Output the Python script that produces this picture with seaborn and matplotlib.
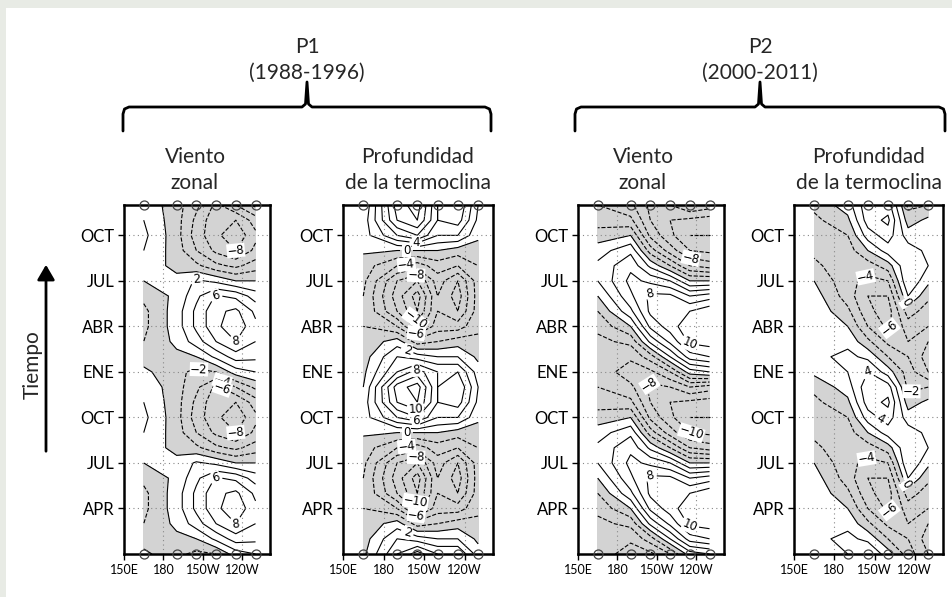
import numpy as np
import matplotlib
matplotlib.use("Agg")
import matplotlib.pyplot as plt
import seaborn as sns
from matplotlib.patches import Rectangle, FancyArrowPatch
from matplotlib.lines import Line2D

sns.set_theme(style="white")
plt.rcParams['font.family'] = ['Lato', 'DejaVu Sans']

# ---------------- data ----------------
lons = [165, 190, 205, 220, 235, 250]          # buoy longitudes (deg E)
months = list(range(1, 25))                     # two annual cycles
month_ticks = [4, 7, 10, 13, 16, 19, 22]
month_labels = ["APR", "JUL", "OCT", "ENE", "ABR", "JUL", "OCT"]
lon_ticks = [150, 180, 210, 240]
lon_labels = ["150E", "180", "150W", "120W"]

# monthly values Jan..Dec at each longitude (columns = lons)
wind_p1 = [
    [0.5, -1.5, -2.5, -2.0, 1.0, 2.0],
    [-1.0, -0.5, 0.0, 2.5, 5.0, 4.5],
    [-2.0, 0.5, 3.0, 6.0, 8.0, 6.0],
    [-2.5, 1.0, 4.5, 7.5, 9.5, 6.5],
    [-2.5, 1.0, 4.5, 7.5, 8.5, 5.5],
    [-1.5, 0.5, 3.5, 6.2, 5.5, 3.0],
    [0.0, 0.5, 2.3, 1.5, 0.0, 0.0],
    [1.0, -0.5, -1.5, -3.5, -4.5, -3.0],
    [2.0, -1.0, -4.0, -6.5, -8.0, -5.5],
    [2.5, -1.2, -5.0, -7.5, -9.5, -6.5],
    [2.0, -1.2, -4.5, -7.5, -8.0, -5.0],
    [1.5, -1.2, -3.5, -6.5, -4.0, -1.5],
]
depth_p1 = [
    [-0.5, 6.0, 9.0, 6.0, 6.0, 1.0],
    [-1.0, 4.0, 3.0, 2.0, 2.0, -0.5],
    [-1.5, 1.0, -3.0, -2.0, -1.0, -1.5],
    [-2.0, -4.0, -9.0, -5.0, -5.0, -2.5],
    [-2.0, -8.0, -12.0, -6.0, -8.0, -3.0],
    [-2.0, -9.0, -13.0, -6.0, -9.0, -3.0],
    [-1.5, -8.0, -10.0, -5.0, -8.0, -3.0],
    [-1.0, -4.0, -5.0, -3.0, -4.0, -2.0],
    [0.3, 0.0, 0.0, 0.0, -1.0, -1.0],
    [1.0, 6.0, 8.0, 4.0, 4.0, 0.5],
    [0.8, 10.0, 12.0, 6.0, 7.0, 1.5],
    [0.0, 11.0, 13.0, 6.0, 8.0, 2.0],
]
wind_p2 = [
    [-4.5, -7.3, -6.5, -4.0, 1.0, 2.0],
    [-5.0, -5.5, -3.0, 2.0, 7.0, 8.0],
    [-4.5, -3.5, 2.5, 6.5, 10.5, 11.0],
    [-3.5, 0.0, 6.5, 9.0, 11.5, 12.0],
    [-2.0, 3.5, 8.5, 10.0, 10.0, 11.5],
    [0.0, 5.6, 8.5, 8.5, 6.0, 7.0],
    [2.0, 6.6, 5.5, 4.0, 0.0, 0.0],
    [2.5, 5.5, 1.5, -2.0, -6.0, -7.0],
    [1.0, 3.5, -3.0, -7.0, -10.0, -10.5],
    [-1.0, 0.0, -6.5, -9.5, -12.0, -12.0],
    [-3.0, -3.5, -8.0, -10.0, -10.5, -11.0],
    [-4.0, -5.5, -8.5, -8.0, -6.0, -7.0],
]
depth_p2 = [
    [0.5, 2.0, 4.0, 1.0, -3.0, -6.0],
    [1.5, 2.5, 1.5, -2.0, -4.0, -7.0],
    [2.0, 1.5, -1.5, -4.5, -4.0, -6.0],
    [2.0, 0.0, -4.0, -6.5, -3.0, -4.0],
    [1.5, -1.5, -5.5, -7.0, -1.0, -3.0],
    [1.0, -3.0, -6.0, -6.0, 2.0, -1.5],
    [0.0, -3.5, -4.5, -4.0, 4.0, 0.5],
    [-1.5, -3.5, -3.0, -1.0, 4.0, 2.0],
    [-2.5, -3.0, 0.0, 3.0, 3.0, 1.5],
    [-3.0, -2.0, 3.0, 5.0, 1.0, 1.0],
    [-2.5, -0.5, 5.0, 6.5, -1.0, 0.5],
    [-1.5, 1.0, 5.5, 5.0, -2.5, -2.0],
]

# ---------------- figure ----------------
W, H = 952, 597
fig = plt.figure(figsize=(W / 100, H / 100), dpi=100)
fig.patch.set_facecolor('#e8ebe5')
fig.patches.append(Rectangle((6 / W, 0), 1, 1 - 8 / H, transform=fig.transFigure,
                             facecolor='white', edgecolor='none', zorder=-10))


def fx(x):
    return x / W


def fy(y):
    return 1 - y / H


levels = np.arange(-14, 16, 2)


def fmt(v):
    v = int(round(v))
    return ("\u2212%d" % -v) if v < 0 else "%d" % v


def panel(left, right, field, label_pos):
    top, bottom = 205, 554
    ax = fig.add_axes([fx(left), fy(bottom), fx(right - left), (bottom - top) / H])
    Z = np.tile(np.array(field), (2, 1))
    X, Y = np.meshgrid(lons, months)
    ax.contourf(X, Y, Z, levels=[-100, 0], colors=['#d3d3d3'], zorder=1)
    cs = ax.contour(X, Y, Z, levels=levels, colors='black', linewidths=0.8, zorder=2)
    cl = ax.clabel(cs, manual=label_pos, inline=True, fmt=fmt, fontsize=8.5)
    for t in cl:
        t.set_family('DejaVu Sans')
        t.set_bbox(dict(facecolor='white', edgecolor='none', pad=0.3))
    ax.set_xlim(150, 261)
    ax.set_ylim(1, 24)
    ax.set_xticks(lon_ticks)
    ax.set_xticklabels(lon_labels, fontsize=9)
    ax.set_yticks(month_ticks)
    ax.set_yticklabels(month_labels, fontsize=12)
    ax.tick_params(axis='both', direction='out', length=4, width=1, colors='black',
                   pad=3, left=True, bottom=True)
    ax.grid(True, linestyle=(0, (1, 3)), color='#888888', linewidth=0.8)
    ax.set_axisbelow(False)
    for s in ax.spines.values():
        s.set_linewidth(1.8)
        s.set_color('black')
        s.set_zorder(5)
    for yy in (1, 24):
        ax.plot(lons, [yy] * len(lons), 'o', ms=6.5, mfc='none', mec='#444444',
                mew=0.9, clip_on=False, zorder=6)
    return ax


panel(124, 270, wind_p1,
      [(235, 21), (235, 9), (235, 15), (235, 3), (220, 18), (220, 6),
       (205, 19.2), (207, 13.2), (225, 12.5), (225, 12.0)])
panel(343, 493, depth_p1,
      [(204, 21.6), (197, 20.8), (197, 20.0), (204, 19.4), (204, 16.5), (204, 15.5),
       (197, 14.2), (204, 13.2), (204, 10.6), (204, 9.7), (197, 8.8), (197, 8.2),
       (204, 7.4), (204, 4.5), (204, 3.5), (197, 2.2)])
panel(578, 724, wind_p2,
      [(236, 20.7), (236, 8.8), (205, 18.2), (205, 6.2), (235, 14.7), (235, 2.7),
       (205, 12.1)])
panel(794, 943, depth_p2,
      [(204, 19.1), (204, 7.3), (234, 17.6), (234, 5.6), (220, 16), (220, 4.0),
       (204, 13.3), (238, 11.4), (215, 10)])

# ---------------- annotations ----------------
def txt(x, y, s, size=15, **kw):
    fig.text(fx(x), fy(y), s, ha='center', va='center', fontsize=size, **kw)


txt(307, 47, "P1")
txt(307, 73, "(1988-1996)")
txt(760, 47, "P2")
txt(760, 73, "(2000-2011)")
txt(195, 157, "Viento")
txt(195, 183, "zonal")
txt(418, 157, "Profundidad")
txt(418, 183, "de la termoclina")
txt(643, 157, "Viento")
txt(643, 183, "zonal")
txt(869, 157, "Profundidad")
txt(869, 183, "de la termoclina")
fig.text(fx(33), fy(365), "Tiempo", rotation=90, ha='center', va='center', fontsize=15)


def brace(x0, x1, xc, ybar=107, ytop=82, yend=131):
    pts = [(x0, yend), (x0, ybar + 7), (x0 + 1.5, ybar + 2), (x0 + 6, ybar),
           (xc - 5, ybar), (xc - 1.5, ybar - 3), (xc, ytop), (xc + 1.5, ybar - 3),
           (xc + 5, ybar), (x1 - 6, ybar), (x1 - 1.5, ybar + 2), (x1, ybar + 7), (x1, yend)]
    xs = [fx(p[0]) for p in pts]
    ys = [fy(p[1]) for p in pts]
    fig.add_artist(Line2D(xs, ys, color='black', linewidth=2, transform=fig.transFigure,
                          solid_joinstyle='round'))


brace(123, 491, 307)
brace(575, 945, 760)

fig.add_artist(FancyArrowPatch(
    (fx(46), fy(454)), (fx(46), fy(262)), transform=fig.transFigure,
    arrowstyle='-|>,head_length=6,head_width=3.5', color='black', linewidth=2,
    mutation_scale=1.5))

fig.savefig("out.png", dpi=100)
